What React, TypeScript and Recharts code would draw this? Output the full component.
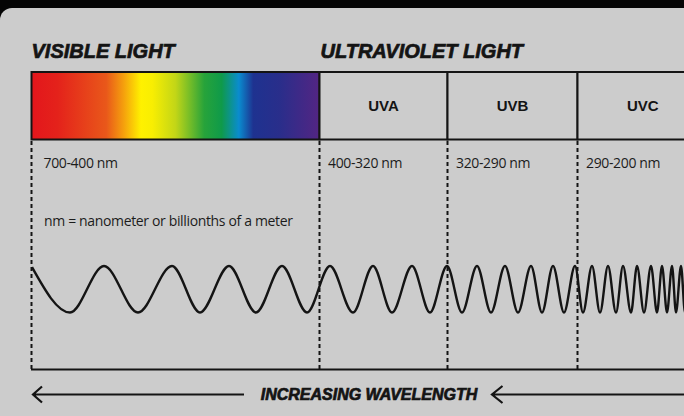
import React from 'react';
import { ComposedChart, Line, XAxis, YAxis, ReferenceArea, ReferenceLine, ReferenceDot } from 'recharts';

// spectrum bands, left to right (edges along the drawing's x scale)
const bandNames = ['', 'UVA', 'UVB', 'UVC'];
const bandRanges = ['700-400 nm', '400-320 nm', '320-290 nm', '290-200 nm'];
const bandStart = [31.5, 319.5, 447.5, 577.5];
const bandEnd = [319.5, 447.5, 577.5, 708];

const groupTitles = ['VISIBLE LIGHT', 'ULTRAVIOLET LIGHT'];
const groupStart = [31.5, 320.5];

const footnote = 'nm = nanometer or billionths of a meter';
const axisTitle = 'INCREASING WAVELENGTH';

// crests and troughs of the wave
const waveX = [
  32, 70, 104, 138, 172, 200, 229, 256, 282, 307, 330, 353, 373, 392, 412, 430, 447,
  462, 477, 491, 505, 518, 531, 542, 553, 564, 575, 583, 592, 600, 608, 616, 623,
  631, 637, 644, 651, 657, 662, 667, 672, 676, 681, 685, 689,
];
const waveY = [
  0.95, -1, 1, -1, 1, -1, 1, -1, 1, -1, 1, -1, 1, -1, 1, -1, 1,
  -1, 1, -1, 1, -1, 1, -1, 1, -1, 1, -1, 1, -1, 1, -1, 1,
  -1, 1, -1, 1, -1, 1, -1, 1, -1, 1, -1, 1,
];

const wave = waveX.map((x, i) => ({ x, y: waveY[i] }));

const INK = '#141414';
const heading = {
  fontFamily: '"Liberation Sans", Arial, sans-serif',
  fontWeight: 700,
  fontStyle: 'italic',
  fill: INK,
  stroke: INK,
  strokeWidth: 0.7,
};
const small = {
  fontFamily: '"Open Sans", sans-serif',
  fontSize: 14,
  fill: '#1c1c1c',
  letterSpacing: -0.35,
};

const arrowShape = (headLen: number, headHalf: number) => (p: any) => {
  const { x1, y1, x2, y2 } = p;
  const xl = Math.min(x1, x2);
  const xr = Math.max(x1, x2);
  return (
    <path
      d={`M${xr},${y1} L${xl},${y1} M${xl + headLen},${y1 - headHalf} L${xl},${y1} L${xl + headLen},${y2 + headHalf}`}
      fill="none"
      stroke={INK}
      strokeWidth={2.2}
    />
  );
};

export default function App() {
  return (
    <div style={{ position: 'absolute', left: 0, top: 0, width: 684, height: 416, background: '#050505', overflow: 'hidden' }}>
      <div
        style={{
          position: 'absolute',
          left: 0,
          top: 8,
          width: 720,
          height: 440,
          background: '#cccccc',
          borderTopLeftRadius: 12,
        }}
      />
      <div style={{ position: 'absolute', left: 0, top: 0 }}>
        <ComposedChart width={684} height={416} data={wave} margin={{ top: 0, right: 0, bottom: 0, left: 0 }}>
          <defs>
            <linearGradient id="spectrum" x1="0" y1="0" x2="1" y2="0">
              <stop offset="0" stopColor="#e3161c" />
              <stop offset="0.09" stopColor="#e4221b" />
              <stop offset="0.26" stopColor="#e9581a" />
              <stop offset="0.32" stopColor="#f5a00d" />
              <stop offset="0.38" stopColor="#fff100" />
              <stop offset="0.42" stopColor="#f8ee02" />
              <stop offset="0.5" stopColor="#c2d617" />
              <stop offset="0.6" stopColor="#27a33a" />
              <stop offset="0.66" stopColor="#0f9a4a" />
              <stop offset="0.72" stopColor="#0a8ccf" />
              <stop offset="0.77" stopColor="#1e3290" />
              <stop offset="0.86" stopColor="#292e8b" />
              <stop offset="1" stopColor="#532583" />
            </linearGradient>
          </defs>
          <XAxis type="number" dataKey="x" domain={[0, 684]} allowDataOverflow hide />
          <YAxis yAxisId="layout" type="number" domain={[0, 416]} reversed allowDataOverflow hide />
          <YAxis yAxisId="wave" type="number" domain={[-5.45, 12.44]} allowDataOverflow hide />

          {bandNames.map((name, i) => (
            <ReferenceArea
              key={`band-${i}`}
              yAxisId="layout"
              x1={bandStart[i]}
              x2={bandEnd[i]}
              y1={72}
              y2={139.5}
              ifOverflow="visible"
              fill={i === 0 ? 'url(#spectrum)' : '#cccccc'}
              fillOpacity={1}
              stroke={INK}
              strokeWidth={2}
              label={{
                value: name,
                position: 'center',
                fill: INK,
                fontSize: 15,
                fontWeight: 700,
                fontFamily: '"Liberation Sans", Arial, sans-serif',
              }}
            />
          ))}

          {bandStart.map((x, i) => (
            <ReferenceLine
              key={`div-${i}`}
              yAxisId="layout"
              segment={[{ x, y: 141 }, { x, y: 369 }]}
              stroke={INK}
              strokeWidth={2}
              strokeDasharray="4 3"
            />
          ))}

          <ReferenceLine
            yAxisId="layout"
            segment={[{ x: 31, y: 369.5 }, { x: 684, y: 369.5 }]}
            stroke={INK}
            strokeWidth={2}
          />

          <Line
            yAxisId="wave"
            dataKey="y"
            type="monotone"
            stroke={INK}
            strokeWidth={2.4}
            dot={false}
            activeDot={false}
            isAnimationActive={false}
          />

          {groupTitles.map((t, i) => (
            <ReferenceDot
              key={`title-${i}`}
              yAxisId="layout"
              x={groupStart[i]}
              y={58}
              shape={(p: any) => (
                <text x={p.cx} y={p.cy} fontSize={20} {...heading}>
                  {t}
                </text>
              )}
            />
          ))}

          {bandRanges.map((t, i) => (
            <ReferenceDot
              key={`range-${i}`}
              yAxisId="layout"
              x={bandStart[i] + (i === 0 ? 12 : 8.5)}
              y={168}
              shape={(p: any) => (
                <text x={p.cx} y={p.cy} {...small}>
                  {t}
                </text>
              )}
            />
          ))}

          <ReferenceDot
            yAxisId="layout"
            x={44}
            y={226}
            shape={(p: any) => (
              <text x={p.cx} y={p.cy} {...small}>
                {footnote}
              </text>
            )}
          />

          <ReferenceLine
            yAxisId="layout"
            segment={[{ x: 33, y: 394.5 }, { x: 244, y: 394.5 }]}
            shape={arrowShape(9, 8)}
          />
          <ReferenceLine
            yAxisId="layout"
            segment={[{ x: 492, y: 394.5 }, { x: 684, y: 394.5 }]}
            shape={arrowShape(10.5, 8.5)}
          />
          <ReferenceDot
            yAxisId="layout"
            x={369}
            y={400}
            shape={(p: any) => (
              <text x={p.cx} y={p.cy} textAnchor="middle" fontSize={16} {...heading}>
                {axisTitle}
              </text>
            )}
          />
        </ComposedChart>
      </div>
    </div>
  );
}
